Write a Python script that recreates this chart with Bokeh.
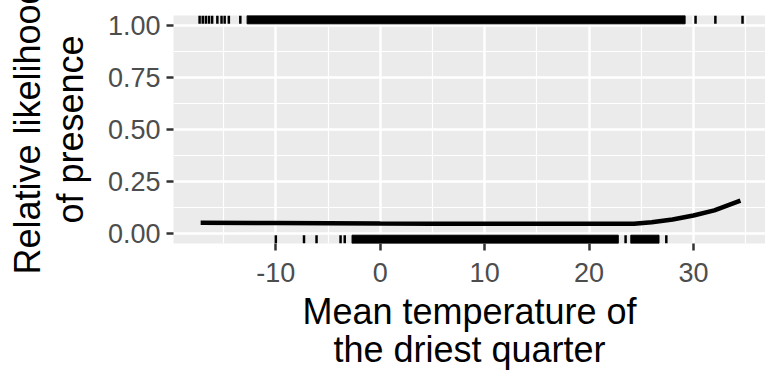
from bokeh.plotting import figure
from bokeh.models import Range1d, FixedTicker, NumeralTickFormatter
from bokeh.embed import file_html
from bokeh.resources import INLINE

# ---- data ----
curve_x = [-17.2, -10, -5, 0, 5, 10, 15, 20, 24.3, 26, 28, 30, 32, 34.5]
curve_y = [0.050, 0.049, 0.048, 0.046, 0.045, 0.045, 0.045, 0.045, 0.045, 0.053, 0.066, 0.085, 0.110, 0.157]

# presences (rug on top): isolated marks and dense stretches
presence_x = [-17.3, -17.0, -16.7, -16.4, -16.1, -15.6, -15.2, -14.9, -14.5, -13.4, 30.2, 32.1, 34.7]
presence_dense_start = [-12.75]
presence_dense_end = [29.2]

# absences (rug on bottom)
absence_x = [-10.0, -7.3, -6.1, -3.8, -3.4, 23.5, 27.4]
absence_dense_start = [-2.7, 24.0]
absence_dense_end = [22.8, 26.7]

x_ticks = [-10, 0, 10, 20, 30]
x_minor = [-15, -5, 5, 15, 25, 35]
y_ticks = [0, 0.25, 0.5, 0.75, 1.0]
y_minor = [0.125, 0.375, 0.625, 0.875]

x_title = "Mean temperature of\nthe driest quarter"
y_title = "Relative likelihood\nof presence"

# ---- figure ----
y0, y1 = -0.05, 1.05
rug_len = 0.04
p = figure(width=765, height=383, output_backend="svg", toolbar_location=None,
           x_range=Range1d(-19.8, 36.9), y_range=Range1d(y0, y1),
           min_border_left=173, min_border_right=0, min_border_top=15, min_border_bottom=140)
p.background_fill_color = "#EBEBEB"
p.border_fill_color = "white"
p.outline_line_color = None

for ax in (p.xaxis[0], p.yaxis[0]):
    ax.axis_line_color = None
    ax.major_tick_line_color = "#333333"
    ax.major_tick_line_width = 2.5
    ax.major_tick_out = 7
    ax.major_tick_in = 0
    ax.minor_tick_out = 0
    ax.minor_tick_in = 0
    ax.major_label_text_font = "Liberation Sans"
    ax.major_label_text_font_size = "27px"
    ax.major_label_text_color = "#4D4D4D"
    ax.axis_label_text_font = "Liberation Sans"
    ax.axis_label_text_font_size = "36px"
    ax.axis_label_text_font_style = "normal"
    ax.axis_label_text_color = "black"

p.xaxis.axis_label_text_line_height = 0.95
p.yaxis.axis_label_text_line_height = 1.05
p.xaxis.ticker = FixedTicker(ticks=x_ticks, minor_ticks=x_minor)
p.yaxis.ticker = FixedTicker(ticks=y_ticks, minor_ticks=y_minor)
p.xaxis.formatter = NumeralTickFormatter(format="0")
p.yaxis.formatter = NumeralTickFormatter(format="0.00")
p.xaxis.axis_label = x_title
p.yaxis.axis_label = y_title
p.xaxis.major_label_standoff = 12
p.yaxis.major_label_standoff = 6
p.xaxis.axis_label_standoff = 6
p.yaxis.axis_label_standoff = 14

for g in (p.xgrid[0], p.ygrid[0]):
    g.grid_line_color = "white"
    g.grid_line_width = 2.4
    g.minor_grid_line_color = "white"
    g.minor_grid_line_width = 1.2

# rugs
p.segment(x0=presence_x, x1=presence_x, y0=[y1] * len(presence_x), y1=[y1 - rug_len] * len(presence_x),
          line_color="black", line_width=2.5)
p.quad(left=presence_dense_start, right=presence_dense_end, top=[y1] * len(presence_dense_start),
       bottom=[y1 - rug_len] * len(presence_dense_start), fill_color="black", line_color="black", line_width=1)
p.segment(x0=absence_x, x1=absence_x, y0=[y0] * len(absence_x), y1=[y0 + rug_len] * len(absence_x),
          line_color="black", line_width=2.5)
p.quad(left=absence_dense_start, right=absence_dense_end, bottom=[y0] * len(absence_dense_start),
       top=[y0 + rug_len] * len(absence_dense_start), fill_color="black", line_color="black", line_width=1)

# smooth curve
p.line(curve_x, curve_y, line_color="black", line_width=4.5)

open("out.html", "w").write(file_html(p, INLINE))
